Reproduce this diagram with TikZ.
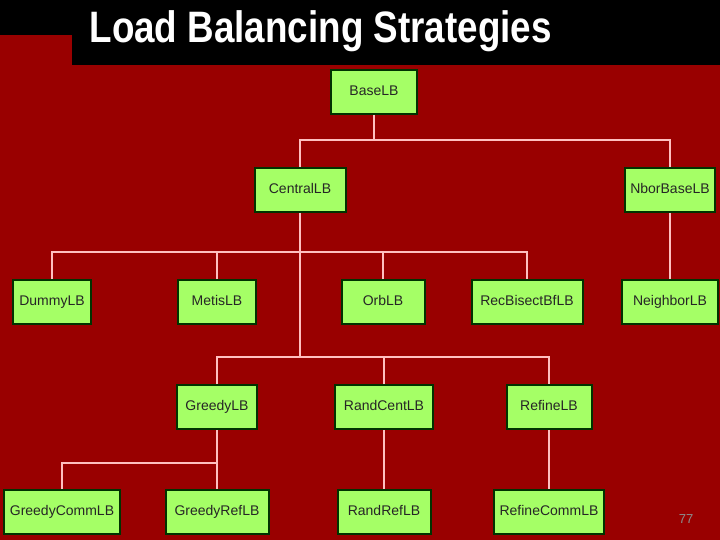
\documentclass[tikz,border=0pt]{standalone}
\usepackage{fontspec}
\setmainfont{Liberation Sans}
\usepackage{graphicx}
\begin{document}
\begin{tikzpicture}[x=1pt,y=-1pt,
 box/.style={draw=black!80!green,line width=2pt,fill=green!45!lime!60!white,minimum height=44pt,inner sep=0pt,text height=10pt,text depth=3pt,font=\fontsize{14}{16}\selectfont,text=black!85},
 con/.style={draw=red!25!white,line width=1.3pt}]
\fill[red!60!black] (0,0) rectangle (720,540);
\useasboundingbox (0,0) rectangle (720,540);
\fill[black] (0,0) rectangle (720,35);
\fill[black] (72,0) rectangle (720,65);
\node[anchor=west,text=white,font=\bfseries\fontsize{40}{42}\selectfont] (title) at (86,31) {\scalebox{0.92}[1.1]{Load Balancing Strategies}};
\node[box,minimum width=86pt] (base) at (374,92) {BaseLB};
\node[box,minimum width=91pt] (central) at (300,190) {CentralLB};
\node[box,minimum width=90pt] (nbor) at (670,190) {NborBaseLB};
\node[box,minimum width=78pt] (dummy) at (52,302) {DummyLB};
\node[box,minimum width=78pt] (metis) at (217,302) {MetisLB};
\node[box,minimum width=83pt] (orb) at (383,302) {OrbLB};
\node[box,minimum width=111pt] (rec) at (527,302) {RecBisectBfLB};
\node[box,minimum width=96pt] (neighbor) at (670,302) {NeighborLB};
\node[box,minimum width=80pt] (greedy) at (217,407) {GreedyLB};
\node[box,minimum width=98pt] (randcent) at (384,407) {RandCentLB};
\node[box,minimum width=85pt] (refine) at (549,407) {RefineLB};
\node[box,minimum width=116pt] (gcomm) at (62,512) {GreedyCommLB};
\node[box,minimum width=103pt] (gref) at (217,512) {GreedyRefLB};
\node[box,minimum width=93pt] (randref) at (384,512) {RandRefLB};
\node[box,minimum width=110pt] (rcomm) at (549,512) {RefineCommLB};
\node[text=black!45,font=\fontsize{13}{15}\selectfont] (page) at (686,519) {77};
\coordinate (j1) at (374,140);
\coordinate (j2) at (300,252);
\coordinate (j3) at (300,357);
\coordinate (j4) at (217,463);
\draw[con] (base) -- (j1);
\draw[con] (central.north) |- (j1) -| (nbor.north);
\draw[con] (central.south) -- (j3);
\draw[con] (dummy.north) |- (j2) -| (rec.north);
\draw[con] (metis.north) -- (metis.north|-j2);
\draw[con] (orb.north) -- (orb.north|-j2);
\draw[con] (greedy.north) |- (j3) -| (refine.north);
\draw[con] (randcent.north) -- (randcent.north|-j3);
\draw[con] (nbor) -- (neighbor);
\draw[con] (greedy) -- (gref);
\draw[con] (gcomm.north) |- (j4);
\draw[con] (randcent) -- (randref);
\draw[con] (refine) -- (rcomm);
\end{tikzpicture}
\end{document}
